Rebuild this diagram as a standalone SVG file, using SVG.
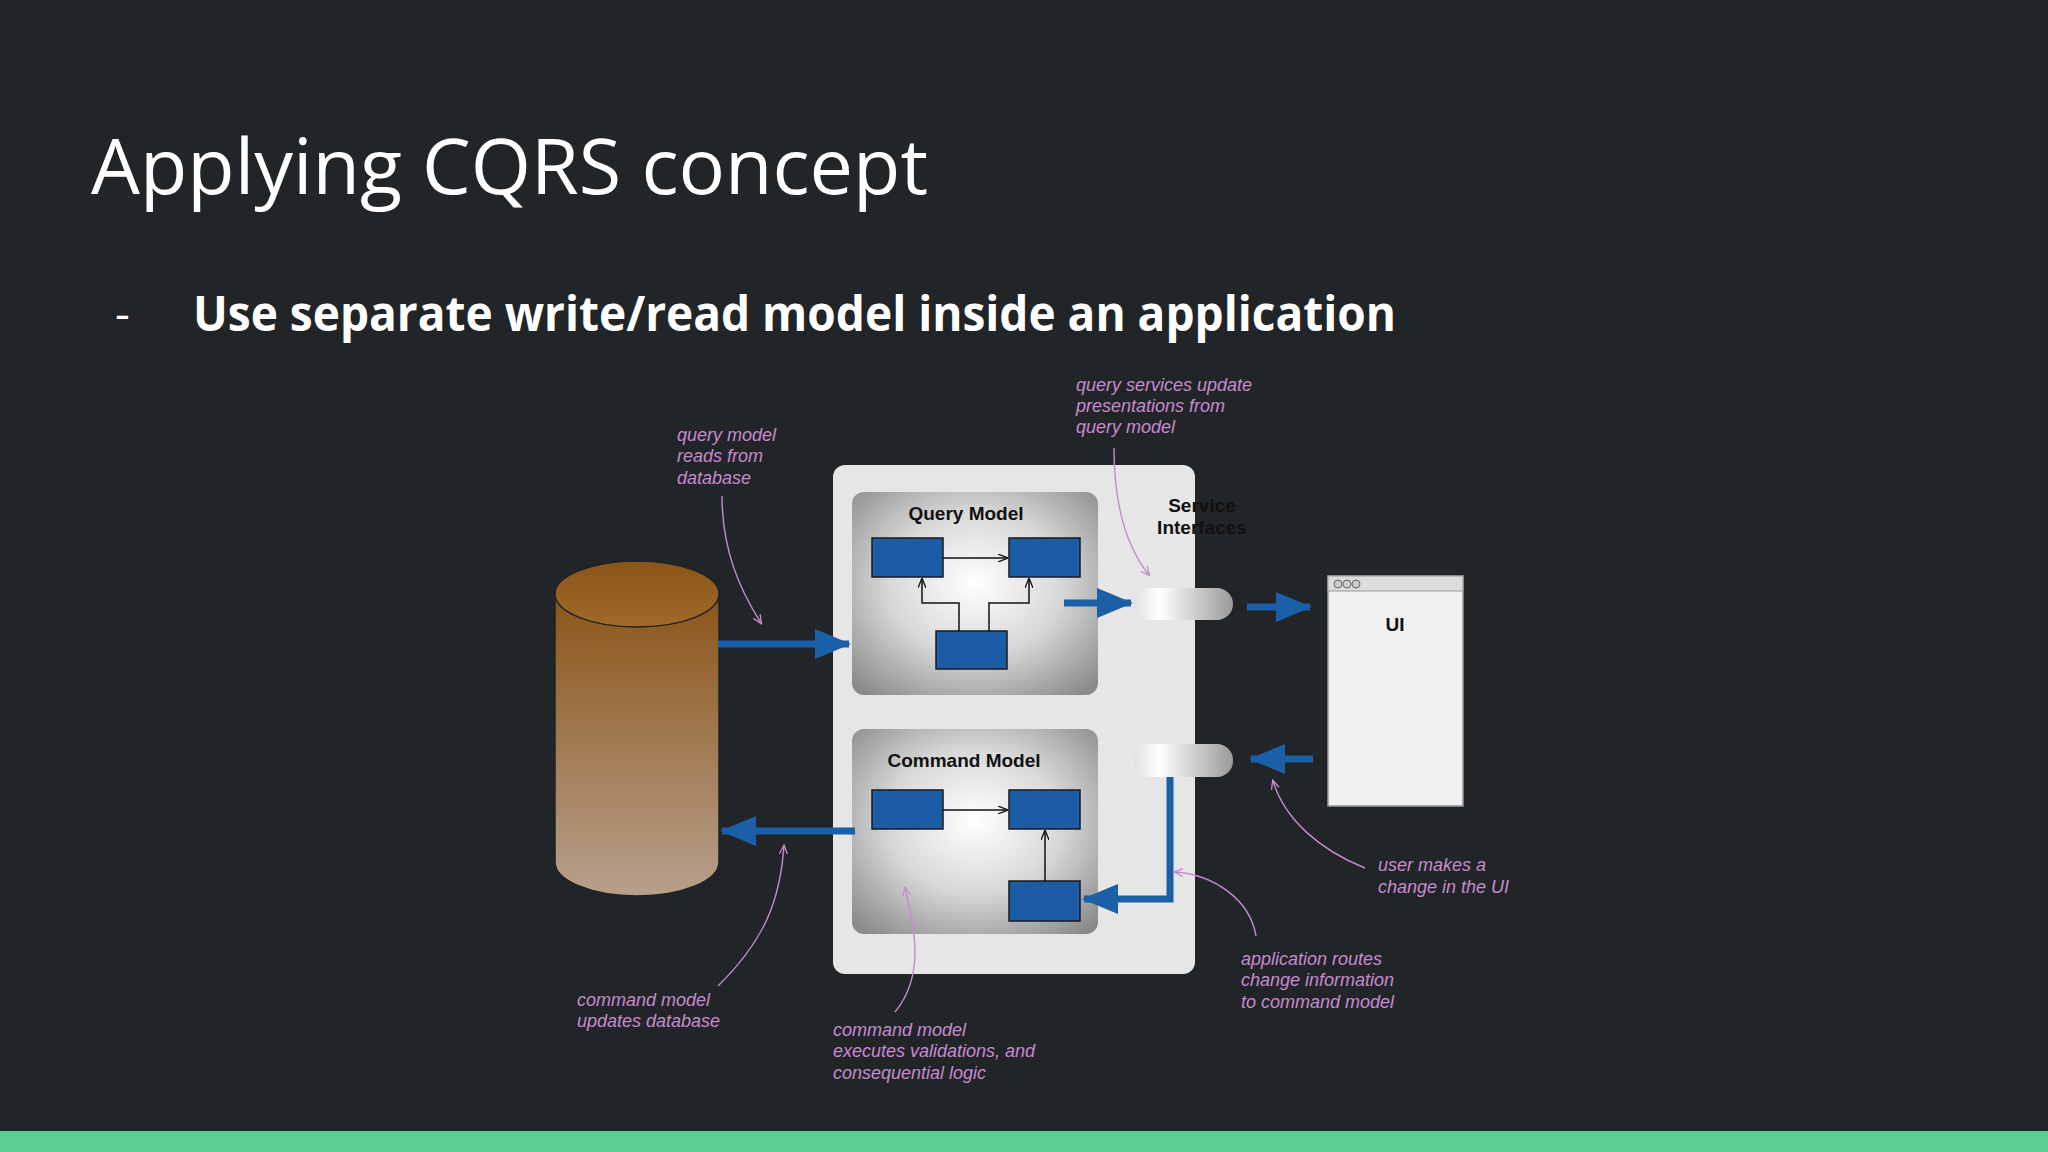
<svg xmlns="http://www.w3.org/2000/svg" width="2048" height="1152" viewBox="0 0 2048 1152">
<defs>
<linearGradient id="cyl" x1="0" y1="0" x2="0" y2="1"><stop offset="0" stop-color="#8c5519"/><stop offset="1" stop-color="#b7a08c"/></linearGradient>
<linearGradient id="cylTop" x1="0" y1="0" x2="0" y2="1"><stop offset="0" stop-color="#8a5518"/><stop offset="1" stop-color="#a06a2a"/></linearGradient>
<radialGradient id="model" cx="0.5" cy="0.45" r="0.7"><stop offset="0" stop-color="#ffffff"/><stop offset="0.5" stop-color="#d8d8d8"/><stop offset="1" stop-color="#8a8a8a"/></radialGradient>
<linearGradient id="pill" x1="0" y1="0" x2="1" y2="0"><stop offset="0" stop-color="#e0e0e0"/><stop offset="0.25" stop-color="#ffffff"/><stop offset="1" stop-color="#9a9a9a"/></linearGradient>
<marker id="ah" markerWidth="10" markerHeight="8" refX="9" refY="4" orient="auto" markerUnits="userSpaceOnUse"><path d="M0,0 L10,4 L0,8" fill="none" stroke="#111" stroke-width="1.3"/></marker>
<marker id="pa" markerWidth="10" markerHeight="10" refX="8" refY="5" orient="auto" markerUnits="userSpaceOnUse"><path d="M0,1 L9,5 L0,9" fill="none" stroke="#c88ad0" stroke-width="1.3"/></marker>
<marker id="big" markerWidth="36" markerHeight="30" refX="34" refY="15" orient="auto" markerUnits="userSpaceOnUse"><path d="M0,0 L36,15 L0,30 Z" fill="#1b5fa6"/></marker>
<style>
.t{font-family:"Open Sans","Liberation Sans",sans-serif;fill:#fff}
.b{fill:#1b5ca4;stroke:#1a1a1a;stroke-width:1.5}
.thin{stroke:#111;stroke-width:1.5;fill:none}
.blue{stroke:#1b5fa6;stroke-width:7;fill:none}
.ann{font-family:"Liberation Sans",Arial,sans-serif;font-style:italic;font-size:18px;fill:#c88ad0}
.al{stroke:#c88ad0;stroke-width:1.4;fill:none}
.lbl{font-family:"Liberation Sans",Arial,sans-serif;font-weight:bold;font-size:19px;fill:#111;text-anchor:middle}
</style>
</defs>
<rect width="2048" height="1152" fill="#212528"/>
<rect y="1131" width="2048" height="21" fill="#5ccf93"/>
<text class="t" x="91" y="194" font-size="76" font-weight="400" textLength="837" lengthAdjust="spacingAndGlyphs">Applying CQRS concept</text>
<text class="t" x="115" y="330" font-size="46">-</text>
<text class="t" x="193" y="331" font-size="48" font-weight="bold" textLength="1203" lengthAdjust="spacingAndGlyphs">Use separate write/read model inside an application</text>

<g id="database">
<path d="M555,594 L555,862 A82,34 0 0 0 719,862 L719,594 Z" fill="url(#cyl)" stroke="#222" stroke-width="1.5"/>
<ellipse cx="637" cy="594" rx="82" ry="33" fill="url(#cylTop)" stroke="#222" stroke-width="1.5"/>
</g>
<g id="application">
<rect x="833" y="465" width="362" height="509" rx="12" fill="#e6e6e6"/>
<text class="lbl" x="1202" y="512">Service</text>
<text class="lbl" x="1202" y="534">Interfaces</text>
</g>
<g id="query-model">
<rect x="852" y="492" width="246" height="203" rx="12" fill="url(#model)"/>
<text class="lbl" x="966" y="520">Query Model</text>
<rect class="b" x="872" y="538" width="71" height="39"/>
<rect class="b" x="1009" y="538" width="71" height="39"/>
<rect class="b" x="936" y="631" width="71" height="38"/>
<path class="thin" d="M943,558 L1007,558" marker-end="url(#ah)"/>
<path class="thin" d="M959,631 L959,603 L922,603 L922,579" marker-end="url(#ah)"/>
<path class="thin" d="M989,631 L989,603 L1029,603 L1029,579" marker-end="url(#ah)"/>
</g>
<g id="command-model">
<rect x="852" y="729" width="246" height="205" rx="12" fill="url(#model)"/>
<text class="lbl" x="964" y="767">Command Model</text>
<rect class="b" x="872" y="790" width="71" height="39"/>
<rect class="b" x="1009" y="790" width="71" height="39"/>
<rect class="b" x="1009" y="881" width="71" height="40"/>
<path class="thin" d="M943,810 L1007,810" marker-end="url(#ah)"/>
<path class="thin" d="M1045,881 L1045,831" marker-end="url(#ah)"/>
</g>
<g id="service-query"><rect x="1134" y="588" width="99" height="32" rx="16" fill="url(#pill)"/></g>
<g id="service-command"><rect x="1134" y="744" width="99" height="33" rx="16" fill="url(#pill)"/></g>
<g id="ui">
<rect x="1328" y="576" width="135" height="230" fill="#f0f0f0" stroke="#999" stroke-width="1.5"/>
<rect x="1328" y="576" width="135" height="15" fill="#dcdcdc" stroke="#999" stroke-width="1"/>
<circle cx="1338" cy="584" r="4" fill="#ccc" stroke="#666"/><circle cx="1347" cy="584" r="4" fill="#ccc" stroke="#666"/><circle cx="1356" cy="584" r="4" fill="#ccc" stroke="#666"/>
<text class="lbl" x="1395" y="631">UI</text>
</g>
<g id="connectors">
<path class="blue" d="M718,644 L849,644" marker-end="url(#big)"/>
<path class="blue" d="M1064,603 L1131,603" marker-end="url(#big)"/>
<path class="blue" d="M1247,607 L1310,607" marker-end="url(#big)"/>
<path class="blue" d="M1313,759 L1251,759" marker-end="url(#big)"/>
<path class="blue" d="M1170,777 L1170,899 L1084,899" marker-end="url(#big)"/>
<path class="blue" d="M855,831 L722,831" marker-end="url(#big)"/>
<path class="al" d="M722,496 C722,550 740,590 761,623" marker-end="url(#pa)"/>
<path class="al" d="M1114,448 C1114,500 1125,545 1149,575" marker-end="url(#pa)"/>
<path class="al" d="M1365,868 C1320,850 1285,820 1273,781" marker-end="url(#pa)"/>
<path class="al" d="M1256,936 C1250,900 1215,875 1175,872" marker-end="url(#pa)"/>
<path class="al" d="M895,1012 C925,975 915,930 905,888" marker-end="url(#pa)"/>
<path class="al" d="M718,986 C765,940 780,900 784,846" marker-end="url(#pa)"/>
</g>
<g id="annotations">
<text class="ann"><tspan x="677" y="441">query model</tspan><tspan x="677" y="462">reads from</tspan><tspan x="677" y="484">database</tspan></text>
<text class="ann"><tspan x="1076" y="391">query services update</tspan><tspan x="1076" y="412">presentations from</tspan><tspan x="1076" y="433">query model</tspan></text>
<text class="ann"><tspan x="1378" y="871">user makes a</tspan><tspan x="1378" y="893">change in the UI</tspan></text>
<text class="ann"><tspan x="1241" y="965">application routes</tspan><tspan x="1241" y="986">change information</tspan><tspan x="1241" y="1008">to command model</tspan></text>
<text class="ann"><tspan x="833" y="1036">command model</tspan><tspan x="833" y="1057">executes validations, and</tspan><tspan x="833" y="1079">consequential logic</tspan></text>
<text class="ann"><tspan x="577" y="1006">command model</tspan><tspan x="577" y="1027">updates database</tspan></text>
</g>
</svg>
